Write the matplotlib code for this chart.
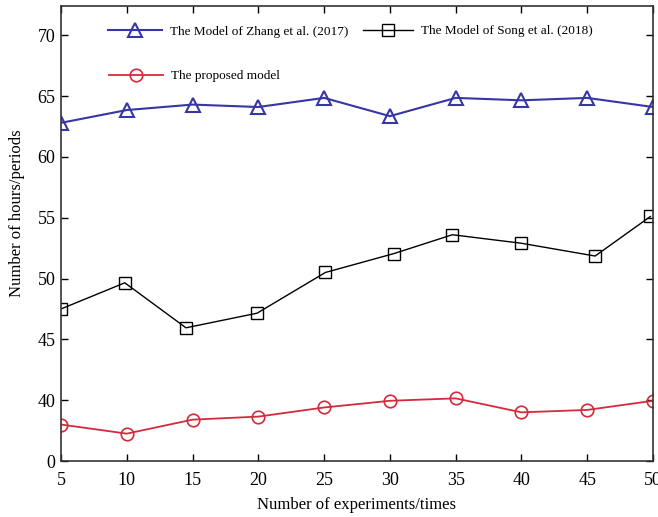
import numpy as np
import matplotlib.pyplot as plt

plt.rcParams['font.family'] = ['Liberation Serif', 'DejaVu Serif']

# --- data ---
x_ticks = [5, 10, 15, 20, 25, 30, 35, 40, 45, 50]

zhang_x = [5, 10, 15, 20, 25, 30, 35, 40, 45, 50]
zhang_y = [62.8, 63.85, 64.3, 64.1, 64.85, 63.35, 64.85, 64.65, 64.85, 64.1]

song_x = [5, 9.85, 14.5, 19.9, 25.1, 30.3, 34.75, 40.0, 45.6, 49.8]
song_y = [47.5, 49.65, 45.95, 47.15, 50.5, 52.05, 53.6, 52.9, 51.85, 55.1]

# the lowest band is drawn on a broken axis: 35 on the scale is labelled "0"
prop_x = [5, 10, 15, 20, 25, 30, 35, 40, 45, 50]
prop_y = [38.0, 37.25, 38.4, 38.65, 39.4, 39.95, 40.15, 39.0, 39.2, 39.95]

y_ticks = [35, 40, 45, 50, 55, 60, 65, 70]
y_labels = ['0', '40', '45', '50', '55', '60', '65', '70']

blue = '#3636a8'
red = '#d42a3c'

fig = plt.figure(figsize=(6.58, 5.17), dpi=100)
ax = fig.add_axes([0.0927, 0.1083, 0.8997, 0.880])

l1, = ax.plot(zhang_x, zhang_y, color=blue, lw=1.5, marker='^', ms=10,
              mfc='none', mec=blue, mew=1.5)
l2, = ax.plot(song_x, song_y, color='black', lw=1.0, marker='s', ms=9,
              mfc='none', mec='black', mew=1.0)
l3, = ax.plot(prop_x, prop_y, color=red, lw=1.3, marker='o', ms=9,
              mfc='none', mec=red, mew=1.2)

ax.set_xlim(5, 50)
ax.set_ylim(35, 72.4)
ax.set_xticks(x_ticks)
ax.set_yticks(y_ticks)
ax.set_yticklabels(y_labels)
ax.tick_params(direction='in', length=5, width=1, labelsize=13,
               top=True, right=True, labeltop=False, labelright=False)
ax.tick_params(axis='x', pad=8)
ax.tick_params(axis='y', pad=4)
for s in ax.spines.values():
    s.set_linewidth(1.2)
    s.set_color('#333333')

ax.set_xlabel('Number of experiments/times', fontsize=12, labelpad=6)
ax.set_ylabel('Number of hours/periods', fontsize=12)
ax.yaxis.set_label_coords(-0.061, 0.545)

# legend entries placed like the original, no frame
common = dict(frameon=False, fontsize=9.5, borderpad=0, borderaxespad=0,
              handletextpad=0.6, loc='center left')
lg1 = ax.legend([l1], ['The Model of Zhang et al. (2017)'], handlelength=4.1,
                bbox_to_anchor=(0.079, 0.943), **common)
ax.add_artist(lg1)
lg2 = ax.legend([l2], ['The Model of Song et al. (2018)'], handlelength=3.8,
                bbox_to_anchor=(0.51, 0.945), **common)
ax.add_artist(lg2)
ax.legend([l3], ['The proposed model'], handlelength=4.1,
          bbox_to_anchor=(0.081, 0.846), **common)

fig.savefig('out.png', dpi=100)
